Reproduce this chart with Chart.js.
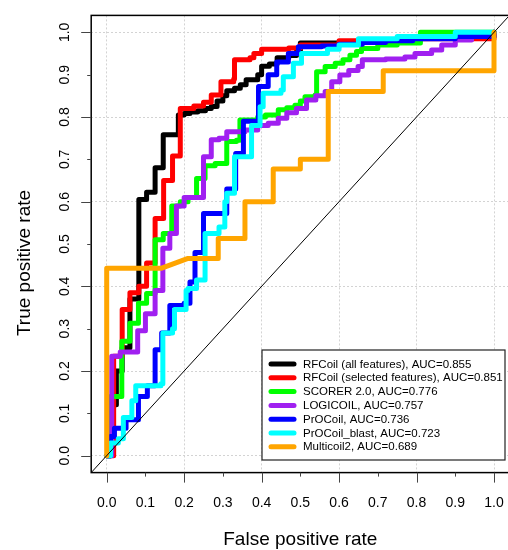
<!DOCTYPE html>
<html>
<head>
<meta charset="utf-8">
<script src="https://cdn.jsdelivr.net/npm/chart.js@4.4.0/dist/chart.umd.min.js"></script>
<style>
  html, body { margin: 0; padding: 0; overflow: hidden; background: #fff; }
  canvas { display: block; }
</style>
</head>
<body>
<canvas id="roc" width="510" height="550"></canvas>
<script>
// ROC curves, corner points (fpr -> x, tpr -> y)
const seriesNames = [
  "RFCoil (all features), AUC=0.855",
  "RFCoil (selected features), AUC=0.851",
  "SCORER 2.0, AUC=0.776",
  "LOGICOIL, AUC=0.757",
  "PrOCoil, AUC=0.736",
  "PrOCoil_blast, AUC=0.723",
  "Multicoil2, AUC=0.689"
];
const seriesColors = ["#000000", "#ff0000", "#00ff00", "#a020f0", "#0000ff", "#00ffff", "#ffa500"];

const rfAllFpr = [0, 0.01, 0.025, 0.04, 0.06, 0.083, 0.103, 0.125, 0.146, 0.185, 0.2, 0.215, 0.235, 0.255, 0.27, 0.285, 0.3, 0.31, 0.33, 0.345, 0.36, 0.39, 0.4, 0.42, 0.44, 0.47, 0.49, 0.5, 0.6, 0.7, 0.8, 0.9, 1];
const rfAllTpr = [0, 0.12, 0.2, 0.255, 0.37, 0.605, 0.622, 0.68, 0.758, 0.805, 0.808, 0.812, 0.815, 0.82, 0.825, 0.838, 0.85, 0.862, 0.868, 0.876, 0.888, 0.9, 0.92, 0.925, 0.94, 0.945, 0.955, 0.975, 0.978, 0.983, 0.986, 0.99, 1];

const rfSelFpr = [0, 0.018, 0.04, 0.06, 0.083, 0.103, 0.125, 0.147, 0.17, 0.19, 0.225, 0.25, 0.27, 0.295, 0.328, 0.33, 0.37, 0.38, 0.4, 0.47, 0.5, 0.6, 0.8, 1];
const rfSelTpr = [0, 0.235, 0.345, 0.385, 0.4, 0.455, 0.56, 0.65, 0.708, 0.82, 0.826, 0.835, 0.852, 0.883, 0.89, 0.935, 0.94, 0.95, 0.96, 0.963, 0.97, 0.98, 0.985, 1];

const scorerFpr = [0, 0.01, 0.039, 0.06, 0.082, 0.103, 0.125, 0.146, 0.168, 0.19, 0.21, 0.232, 0.254, 0.28, 0.31, 0.335, 0.344, 0.39, 0.41, 0.443, 0.465, 0.486, 0.5, 0.512, 0.538, 0.542, 0.564, 0.59, 0.61, 0.628, 0.645, 0.658, 0.7, 0.75, 0.81, 1];
const scorerTpr = [0, 0.14, 0.27, 0.313, 0.36, 0.383, 0.51, 0.525, 0.59, 0.6, 0.61, 0.655, 0.685, 0.69, 0.742, 0.745, 0.793, 0.8, 0.805, 0.817, 0.822, 0.828, 0.838, 0.848, 0.852, 0.907, 0.919, 0.927, 0.935, 0.946, 0.955, 0.962, 0.97, 0.975, 1, 1];

const logicoilFpr = [0, 0.013, 0.035, 0.08, 0.1, 0.125, 0.145, 0.163, 0.18, 0.2, 0.25, 0.27, 0.29, 0.31, 0.357, 0.39, 0.417, 0.443, 0.465, 0.49, 0.516, 0.54, 0.564, 0.581, 0.602, 0.625, 0.649, 0.66, 0.72, 0.77, 0.796, 0.839, 0.865, 0.9, 0.942, 1];
const logicoilTpr = [0, 0.235, 0.245, 0.295, 0.335, 0.39, 0.49, 0.525, 0.59, 0.61, 0.706, 0.746, 0.75, 0.765, 0.769, 0.78, 0.785, 0.797, 0.81, 0.82, 0.84, 0.85, 0.86, 0.883, 0.899, 0.91, 0.919, 0.935, 0.937, 0.942, 0.95, 0.958, 0.97, 0.982, 0.99, 1];

const procoilFpr = [0, 0.01, 0.02, 0.05, 0.082, 0.105, 0.125, 0.142, 0.163, 0.2, 0.215, 0.228, 0.25, 0.31, 0.333, 0.353, 0.392, 0.417, 0.439, 0.469, 0.495, 0.555, 0.6, 0.66, 0.72, 0.79, 0.9, 1];
const procoilTpr = [0, 0.045, 0.065, 0.085, 0.14, 0.165, 0.25, 0.29, 0.355, 0.36, 0.41, 0.48, 0.572, 0.63, 0.714, 0.79, 0.872, 0.9, 0.93, 0.95, 0.966, 0.968, 0.972, 0.976, 0.98, 0.985, 0.99, 1];

const blastFpr = [0, 0.01, 0.03, 0.043, 0.065, 0.075, 0.14, 0.145, 0.17, 0.175, 0.205, 0.21, 0.232, 0.254, 0.29, 0.305, 0.31, 0.33, 0.374, 0.396, 0.404, 0.45, 0.456, 0.482, 0.503, 0.57, 0.6, 0.65, 0.75, 0.9, 1];
const blastTpr = [0, 0.03, 0.04, 0.09, 0.13, 0.165, 0.17, 0.29, 0.3, 0.345, 0.39, 0.395, 0.415, 0.525, 0.54, 0.6, 0.62, 0.706, 0.78, 0.824, 0.856, 0.864, 0.895, 0.927, 0.95, 0.96, 0.97, 0.985, 0.99, 1, 1];

const multicoilFpr = [0, 0, 0.142, 0.21, 0.288, 0.288, 0.357, 0.357, 0.43, 0.43, 0.5, 0.5, 0.572, 0.572, 0.714, 0.714, 1, 1];
const multicoilTpr = [0, 0.443, 0.443, 0.466, 0.466, 0.513, 0.513, 0.6, 0.6, 0.677, 0.677, 0.7, 0.7, 0.86, 0.86, 0.909, 0.909, 1];

const chanceLine = [-0.04, 1.04];

const tickValues = [0, 0.1, 0.2, 0.3, 0.4, 0.5, 0.6, 0.7, 0.8, 0.9, 1];
const tickLabels = ["0.0", "0.1", "0.2", "0.3", "0.4", "0.5", "0.6", "0.7", "0.8", "0.9", "1.0"];
const gridValues = [0, 0.2, 0.4, 0.6, 0.8, 1];

const curves = [
  [rfAllFpr, rfAllTpr, true],
  [rfSelFpr, rfSelTpr, true],
  [scorerFpr, scorerTpr, true],
  [logicoilFpr, logicoilTpr, true],
  [procoilFpr, procoilTpr, true],
  [blastFpr, blastTpr, true],
  [multicoilFpr, multicoilTpr, false]
];

function toPoints(xs, ys) {
  return xs.map((v, i) => ({x: v, y: ys[i]}));
}

let datasets = curves.map((c, i) => ({
  label: seriesNames[i],
  data: toPoints(c[0], c[1]),
  borderColor: seriesColors[i],
  borderWidth: 5,
  borderJoinStyle: 'round',
  borderCapStyle: 'round',
  stepped: c[2],
  pointRadius: 0,
  fill: false,
  order: curves.length - i
}));
datasets.push({
  label: 'chance',
  data: toPoints(chanceLine, chanceLine),
  borderColor: '#000',
  borderWidth: 1,
  pointRadius: 0,
  fill: false,
  order: 0
});

const FONT = '"Liberation Sans", Arial, Helvetica, sans-serif';

const axisDecor = {
  id: 'axisDecor',
  afterDraw(chart) {
    const {ctx, chartArea: a, scales: {x, y}} = chart;
    ctx.save();

    // legend box
    const lx = 262, ly = 350, lw = 243, lh = 110;
    ctx.fillStyle = '#fff';
    ctx.fillRect(lx, ly, lw, lh);
    ctx.strokeStyle = '#222';
    ctx.lineWidth = 1.2;
    ctx.strokeRect(lx, ly, lw, lh);
    ctx.font = '11.5px ' + FONT;
    ctx.textAlign = 'left';
    ctx.textBaseline = 'middle';
    seriesNames.forEach((name, i) => {
      const ry = 364 + i * 13.8;
      ctx.strokeStyle = seriesColors[i];
      ctx.lineWidth = 5;
      ctx.lineCap = 'round';
      ctx.beginPath();
      ctx.moveTo(271, ry);
      ctx.lineTo(294, ry);
      ctx.stroke();
      ctx.fillStyle = '#000';
      ctx.fillText(name, 303, ry + 0.5);
    });
    ctx.lineCap = 'butt';

    // plot box
    ctx.strokeStyle = '#000';
    ctx.lineWidth = 1.5;
    ctx.strokeRect(a.left, a.top, a.right - a.left, a.bottom - a.top);

    // ticks
    ctx.strokeStyle = '#444';
    ctx.lineWidth = 1;
    tickValues.forEach((v, i) => {
      const len = i % 2 === 0 ? 10 : 4;
      const px = Math.round(x.getPixelForValue(v)) + 0.5;
      ctx.beginPath();
      ctx.moveTo(px, a.bottom);
      ctx.lineTo(px, a.bottom + len);
      ctx.stroke();
      const py = Math.round(y.getPixelForValue(v)) + 0.5;
      ctx.beginPath();
      ctx.moveTo(a.left, py);
      ctx.lineTo(a.left - len, py);
      ctx.stroke();
    });

    // tick labels
    ctx.fillStyle = '#000';
    ctx.font = '14px ' + FONT;
    ctx.textAlign = 'center';
    ctx.textBaseline = 'middle';
    tickValues.forEach((v, i) => {
      ctx.fillText(tickLabels[i], x.getPixelForValue(v), 503);
      ctx.save();
      ctx.translate(65, y.getPixelForValue(v));
      ctx.rotate(-Math.PI / 2);
      ctx.fillText(tickLabels[i], 0, 0);
      ctx.restore();
    });

    // axis titles
    ctx.font = '19px ' + FONT;
    ctx.textBaseline = 'alphabetic';
    ctx.fillText('False positive rate', (a.left + a.right) / 2, 545);
    ctx.save();
    ctx.translate(29.5, 263);
    ctx.rotate(-Math.PI / 2);
    ctx.fillText('True positive rate', 0, 0);
    ctx.restore();

    ctx.restore();
  }
};

function axisOpts(isX) {
  return {
    type: 'linear',
    min: -0.04,
    max: 1.04,
    afterBuildTicks: s => { s.ticks = gridValues.map(v => ({value: v})); },
    afterFit: s => { if (isX) s.height = 0; else s.width = 0; },
    ticks: {display: false},
    grid: {color: '#d3d3d3', lineWidth: 1, drawTicks: false},
    border: {display: false, dash: [2, 2]}
  };
}

new Chart(document.getElementById('roc'), {
  type: 'line',
  data: {datasets: datasets},
  options: {
    responsive: false,
    animation: false,
    events: [],
    layout: {autoPadding: false, padding: {left: 91.2, top: 15.4, right: 0.5, bottom: 77.4}},
    plugins: {legend: {display: false}, tooltip: {enabled: false}},
    scales: {x: axisOpts(true), y: axisOpts(false)}
  },
  plugins: [axisDecor]
});
</script>
</body>
</html>
